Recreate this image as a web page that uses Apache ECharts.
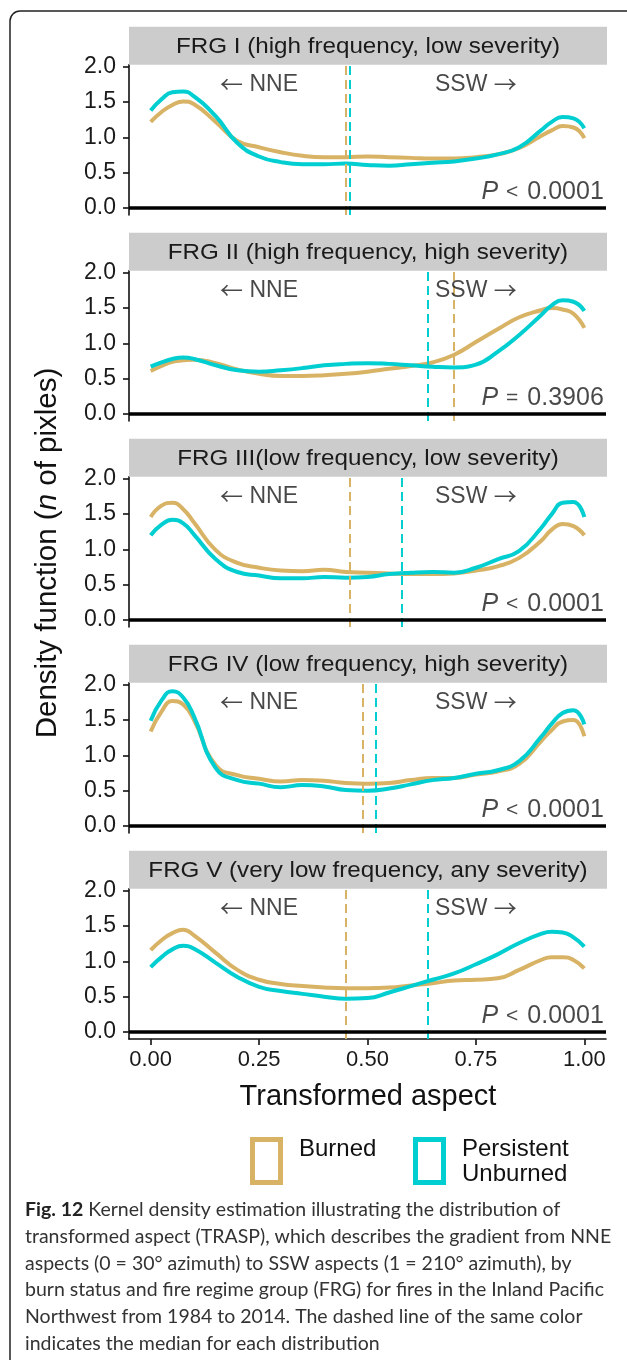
<!DOCTYPE html>
<html><head><meta charset="utf-8">
<script src="https://cdn.jsdelivr.net/npm/echarts@6/dist/echarts.min.js"></script>
<style>html,body{margin:0;padding:0;background:#fff}#c{width:627px;height:1360px}</style>
</head><body><div id="c"></div><script>
// ---------- data ----------
const xGrid = [0,0.025,0.05,0.075,0.1,0.15,0.2,0.25,0.3,0.35,0.4,0.45,0.5,0.55,0.6,0.65,0.7,0.75,0.8,0.85,0.9,0.925,0.95,0.975,1.0];
const panelTitles = [
  'FRG I (high frequency, low severity)',
  'FRG II (high frequency, high severity)',
  'FRG III(low frequency, low severity)',
  'FRG IV (low frequency, high severity)',
  'FRG V (very low frequency, any severity)'
];
const burnedFRG1 = [1.22,1.36,1.46,1.51,1.47,1.22,0.95,0.86,0.79,0.74,0.72,0.72,0.73,0.72,0.71,0.70,0.70,0.72,0.76,0.85,1.02,1.10,1.16,1.14,0.99];
const unburnedFRG1 = [1.38,1.54,1.64,1.65,1.58,1.30,0.92,0.73,0.65,0.62,0.62,0.63,0.61,0.60,0.62,0.64,0.66,0.70,0.76,0.86,1.10,1.22,1.29,1.27,1.13];
const burnedFRG2 = [0.61,0.68,0.74,0.76,0.77,0.72,0.63,0.57,0.54,0.54,0.55,0.57,0.60,0.64,0.68,0.73,0.84,1.02,1.20,1.37,1.47,1.50,1.48,1.42,1.22];
const unburnedFRG2 = [0.67,0.73,0.78,0.80,0.78,0.69,0.62,0.60,0.62,0.65,0.69,0.71,0.72,0.71,0.69,0.67,0.66,0.70,0.88,1.12,1.40,1.54,1.61,1.59,1.46];
const burnedFRG3 = [1.46,1.62,1.66,1.57,1.38,0.99,0.81,0.74,0.70,0.69,0.71,0.68,0.67,0.66,0.65,0.65,0.66,0.70,0.76,0.88,1.12,1.28,1.36,1.33,1.20];
const unburnedFRG3 = [1.20,1.35,1.42,1.37,1.21,0.86,0.68,0.63,0.59,0.59,0.61,0.60,0.61,0.65,0.67,0.68,0.67,0.74,0.86,0.98,1.30,1.50,1.66,1.67,1.46];
const burnedFRG4 = [1.34,1.62,1.77,1.72,1.50,0.86,0.72,0.67,0.63,0.65,0.64,0.61,0.60,0.61,0.65,0.68,0.68,0.73,0.77,0.88,1.20,1.36,1.48,1.50,1.27];
const unburnedFRG4 = [1.49,1.78,1.91,1.82,1.55,0.82,0.65,0.60,0.55,0.58,0.56,0.51,0.50,0.53,0.59,0.65,0.68,0.74,0.79,0.92,1.26,1.45,1.60,1.64,1.44];
const burnedFRG5 = [1.16,1.30,1.40,1.45,1.37,1.12,0.88,0.74,0.68,0.65,0.63,0.62,0.62,0.63,0.66,0.69,0.73,0.74,0.76,0.88,1.02,1.06,1.06,1.02,0.90];
const unburnedFRG5 = [0.92,1.06,1.17,1.22,1.18,0.98,0.78,0.64,0.58,0.54,0.50,0.47,0.48,0.56,0.65,0.74,0.83,0.96,1.10,1.26,1.39,1.42,1.41,1.34,1.21];
const burnedMedians = [0.446,0.697,0.463,0.489,0.446];
const unburnedMedians = [0.458,0.644,0.576,0.520,0.635];
const pOps = ['<','=','<','<','<'];
const pValues = ['0.0001','0.3906','0.0001','0.0001','0.0001'];
const yTicks = [0,0.5,1,1.5,2];
const xTicks = [0,0.25,0.5,0.75,1];
const dirLabels = ['{a|\u2190} NNE','SSW {a|\u2192}'];
const dirLabelX = [0.25,0.75];
const legendNames = ['Burned','Persistent\nUnburned'];
const captionLines = [
  'Kernel density estimation illustrating the distribution of',
  'transformed aspect (TRASP), which describes the gradient from NNE',
  'aspects (0 = 30\u00b0 azimuth) to SSW aspects (1 = 210\u00b0 azimuth), by',
  'burn status and fire regime group (FRG) for fires in the Inland Pacific',
  'Northwest from 1984 to 2014. The dashed line of the same color',
  'indicates the median for each distribution'
];
const burnedSets = [burnedFRG1,burnedFRG2,burnedFRG3,burnedFRG4,burnedFRG5];
const unburnedSets = [unburnedFRG1,unburnedFRG2,unburnedFRG3,unburnedFRG4,unburnedFRG5];

// ---------- layout / style ----------
const GOLD = '#D8B365', TEAL = '#00CED1';
const FONT = 'Liberation Sans, Arial, sans-serif';
const ARROW_FONT = '"Noto Sans CJK SC", "DejaVu Sans", sans-serif';
const LEFT = 129, PW = 477, ZERO0 = 208, STEP = 206, UNIT = 70.6;
const YMIN = -0.1, YMAX = 2.03, XMIN = -0.05, XMAX = 1.05;
const STRIP_H = 38;

const grids = [], xAxes = [], yAxes = [], series = [], graphics = [];
for (let i = 0; i < 5; i++) {
  const top = ZERO0 + STEP * i - YMAX * UNIT;
  const h = (YMAX - YMIN) * UNIT;
  const last = i === 4;
  grids.push({left: LEFT, top: top, width: PW, height: h, containLabel: false, outerBoundsMode: 'none'});
  xAxes.push({
    type: 'value', gridIndex: i, min: XMIN, max: XMAX, show: true,
    axisLine: {show: last, onZero: false, lineStyle: {color: '#111', width: 1.6}},
    axisTick: {show: last, length: 6, customValues: xTicks, lineStyle: {color: '#111', width: 1.6}},
    axisLabel: {show: last, customValues: xTicks, margin: 10, formatter: v => v.toFixed(2),
      color: '#1a1a1a', fontSize: 22, fontFamily: FONT},
    splitLine: {show: false}
  });
  yAxes.push({
    type: 'value', gridIndex: i, min: YMIN, max: YMAX,
    axisLine: {show: true, onZero: false, lineStyle: {color: '#111', width: 1.6}},
    axisTick: {show: true, length: 6, customValues: yTicks, lineStyle: {color: '#111', width: 1.6}},
    axisLabel: {show: true, customValues: yTicks, margin: 13, formatter: v => v.toFixed(1),
      color: '#1a1a1a', fontSize: 23, fontFamily: FONT},
    splitLine: {show: false}
  });
  const medLine = (v, c) => ({xAxis: v, lineStyle: {color: c, type: [9, 5], width: 2}});
  series.push({
    type: 'line', xAxisIndex: i, yAxisIndex: i, name: 'Burned', smooth: 0.5, showSymbol: false,
    data: xGrid.map((x, k) => [x, burnedSets[i][k]]), z: 2,
    lineStyle: {color: GOLD, width: 4}, itemStyle: {color: GOLD}
  });
  series.push({
    type: 'line', xAxisIndex: i, yAxisIndex: i, name: 'Persistent Unburned', smooth: 0.5, showSymbol: false,
    data: xGrid.map((x, k) => [x, unburnedSets[i][k]]), z: 3,
    lineStyle: {color: TEAL, width: 4}, itemStyle: {color: TEAL},
    markLine: {silent: true, symbol: ['none', 'none'], label: {show: false}, animation: false,
      data: [
        medLine(burnedMedians[i], GOLD),
        medLine(unburnedMedians[i], TEAL),
        {yAxis: 0, lineStyle: {color: '#000', type: 'solid', width: 3.5}}
      ]}
  });
  // direction annotations
  series.push({
    type: 'scatter', xAxisIndex: i, yAxisIndex: i, symbolSize: 0, silent: true, z: 5,
    data: dirLabelX.map((x, k) => ({value: [x, 1.75], name: dirLabels[k]})),
    label: {show: true, position: [0, 0], align: 'center', verticalAlign: 'middle',
      formatter: p => p.name, color: '#1a1a1a', fontSize: 23, fontFamily: FONT,
      rich: {a: {fontFamily: ARROW_FONT, fontSize: 23, color: '#1a1a1a'}}}
  });
  // P value annotation
  series.push({
    type: 'scatter', xAxisIndex: i, yAxisIndex: i, symbolSize: 0, silent: true, z: 5,
    data: [{value: [1.045, 0.05], name: pOps[i] + '|' + pValues[i]}],
    label: {show: true, position: [0, 0], align: 'right', verticalAlign: 'bottom',
      formatter: p => { const s = p.name.split('|'); return '{i|P}{o|' + s[0] + '}{n|' + s[1] + '}'; },
      rich: {
        i: {fontStyle: 'italic', fontSize: 25, fontFamily: FONT, color: '#1a1a1a'},
        o: {fontSize: 21, fontFamily: FONT, color: '#1a1a1a', padding: [0, 9, 0, 8]},
        n: {fontSize: 25, fontFamily: FONT, color: '#1a1a1a'}
      }}
  });
  // strip
  graphics.push({type: 'rect', shape: {x: LEFT, y: top - STRIP_H, width: PW + 1, height: STRIP_H},
    style: {fill: '#cccccc'}, z: 1});
  graphics.push({type: 'text', x: LEFT + (PW + 1) / 2, y: top - STRIP_H / 2 + 1, scaleX: 1.1,
    style: {text: panelTitles[i], fill: '#1a1a1a', fontSize: 22, fontFamily: FONT, align: 'center', verticalAlign: 'middle'}, z: 2});
}

// axis titles
graphics.push({type: 'text', x: 48, y: 553, rotation: Math.PI / 2,
  style: {text: '{a|Density function (}{b|n}{a| of pixles)}', align: 'center', verticalAlign: 'middle',
    fontSize: 29.5, fontFamily: FONT, fill: '#111',
    rich: {a: {fontSize: 29.5, fontFamily: FONT, fill: '#111'}, b: {fontSize: 29.5, fontFamily: FONT, fontStyle: 'italic', fill: '#111'}}}});
graphics.push({type: 'text', x: 368, y: 1097,
  style: {text: 'Transformed aspect', align: 'center', verticalAlign: 'middle', fontSize: 29, fontFamily: FONT, fill: '#111'}});

// legend
const legendX = [250, 413];
const legendColors = [GOLD, TEAL];
legendX.forEach((lx, k) => {
  graphics.push({type: 'rect', shape: {x: lx + 2.5, y: 1139.5, width: 28, height: 43},
    style: {fill: 'none', stroke: legendColors[k], lineWidth: 5}});
  graphics.push({type: 'text', x: lx + 49, y: 1137,
    style: {text: legendNames[k], fontSize: 24, lineHeight: 25, fontFamily: FONT, fill: '#111', align: 'left', verticalAlign: 'top'}});
});

// caption
const CAP_FONT = 'Lato, "Open Sans", sans-serif';
captionLines.forEach((line, k) => {
  graphics.push({type: 'text', x: 25, y: 1210 + k * 26.7,
    style: {text: k === 0 ? '{b|Fig. 12} ' + line : line, align: 'left', verticalAlign: 'middle',
      fontSize: 19.5, fontFamily: CAP_FONT, fill: '#333',
      rich: {b: {fontWeight: 'bold', fontSize: 19.5, fontFamily: CAP_FONT, fill: '#222'}}}});
});

// outer frame
graphics.push({type: 'rect', shape: {x: 10, y: 11, width: 700, height: 1400, r: 10},
  style: {fill: 'none', stroke: '#222', lineWidth: 1.5}, z: 0});

const chart = echarts.init(document.getElementById('c'), null, {renderer: 'canvas'});
chart.setOption({
  animation: false,
  backgroundColor: '#fff',
  grid: grids, xAxis: xAxes, yAxis: yAxes, series: series, graphic: graphics
});
</script></body></html>
